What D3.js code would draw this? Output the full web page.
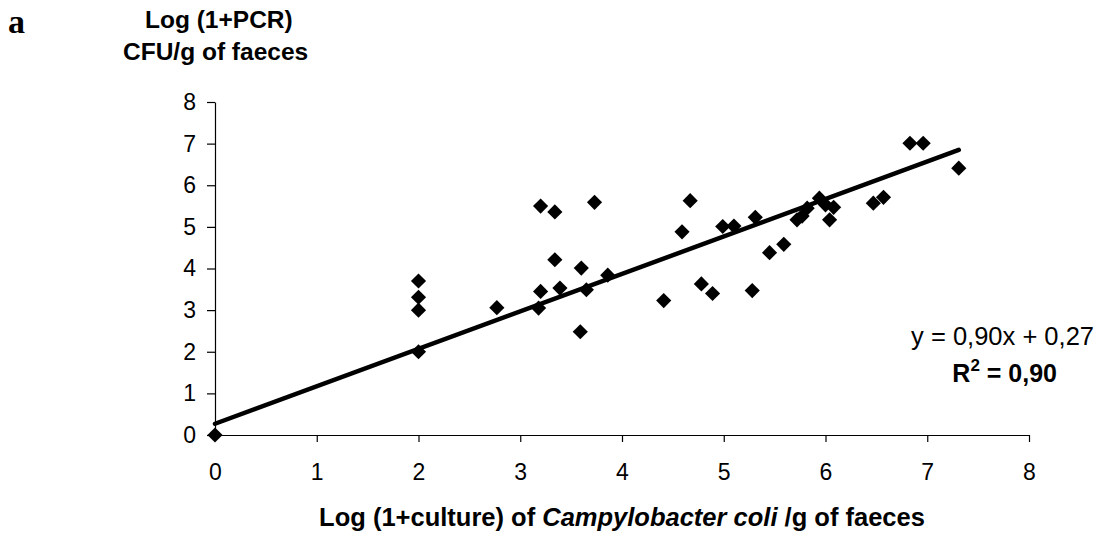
<!DOCTYPE html>
<html>
<head>
  <meta charset="utf-8">
  <title>PCR vs culture</title>
  <script src="https://d3js.org/d3.v7.min.js"></script>
  <style>
    body { margin: 0; background: #fff; }
    text { font-family: "Liberation Sans", Arial, sans-serif; fill: #000; }
  </style>
</head>
<body>
  <script>
    // data
    var cultureLog = [0, 2, 2, 2, 2, 2.77, 3.18, 3.20, 3.20, 3.34, 3.34, 3.39, 3.59, 3.60, 3.65, 3.73, 3.86,
                      4.41, 4.59, 4.67, 4.78, 4.89, 4.99, 5.10, 5.28, 5.31, 5.45, 5.59,
                      5.72, 5.77, 5.82, 5.94, 6.00, 6.04, 6.08, 6.47, 6.57, 6.83, 6.96, 7.31];
    var pcrLog     = [0, 2.0, 3.0, 3.31, 3.70, 3.06, 3.05, 3.45, 5.50, 5.36, 4.21, 3.53, 2.48, 4.01, 3.49, 5.59, 3.84,
                      3.23, 4.88, 5.63, 3.63, 3.40, 5.01, 5.02, 3.47, 5.23, 4.38, 4.58,
                      5.17, 5.26, 5.45, 5.69, 5.53, 5.17, 5.47, 5.57, 5.71, 7.01, 7.01, 6.41];
    var xTicks = [0, 1, 2, 3, 4, 5, 6, 7, 8];
    var yTicks = [0, 1, 2, 3, 4, 5, 6, 7, 8];
    var slope = 0.90, intercept = 0.27;
    var fitRange = [0, 7.31];

    var width = 1100, height = 537;
    var svg = d3.select("body").append("svg").attr("width", width).attr("height", height);

    var x = d3.scaleLinear().domain([0, 8]).range([215, 1029]);
    var y = d3.scaleLinear().domain([0, 8]).range([435, 102]);

    // axes
    svg.append("g")
      .attr("transform", "translate(0," + y(0) + ")")
      .call(d3.axisBottom(x).tickValues(xTicks).tickSize(7).tickSizeOuter(0).tickPadding(22))
      .call(g => g.selectAll("text").attr("font-size", 23).attr("font-family", "Liberation Sans"))
      .call(g => g.selectAll(".tick").filter(d => d === 0).select("line").remove());

    svg.append("g")
      .attr("transform", "translate(" + x(0) + ",0)")
      .call(d3.axisLeft(y).tickValues(yTicks).tickSize(8).tickSizeOuter(0).tickPadding(11))
      .call(g => g.selectAll("text").attr("font-size", 23).attr("font-family", "Liberation Sans"))
      .call(g => g.selectAll(".tick").filter(d => d === 0).select("line").attr("x2", -8));

    svg.selectAll(".domain, .tick line").attr("stroke", "#000").attr("stroke-width", 1.2);

    // trend line
    svg.append("line")
      .attr("x1", x(fitRange[0])).attr("y1", y(slope * fitRange[0] + intercept))
      .attr("x2", x(fitRange[1])).attr("y2", y(slope * fitRange[1] + intercept))
      .attr("stroke", "#000").attr("stroke-width", 4.5).attr("stroke-linecap", "round");

    // points
    var diamond = d3.symbol().type(d3.symbolSquare).size(115);
    svg.append("g")
      .selectAll("path")
      .data(d3.range(cultureLog.length))
      .enter()
      .append("path")
      .attr("d", diamond)
      .attr("transform", i => "translate(" + x(cultureLog[i]) + "," + y(pcrLog[i]) + ") rotate(45)")
      .attr("fill", "#000");

    // equation
    svg.append("text").attr("x", 1094).attr("y", 345).attr("text-anchor", "end")
      .attr("font-size", 25.5).text("y = 0,90x + 0,27");
    var r2 = svg.append("text").attr("x", 1057).attr("y", 382).attr("text-anchor", "end")
      .attr("font-size", 25).attr("font-weight", "bold");
    r2.append("tspan").text("R");
    r2.append("tspan").attr("dy", -11).attr("font-size", 17).text("2");
    r2.append("tspan").attr("dy", 11).text(" = 0,90");

    // axis titles
    var xt = svg.append("text").attr("x", 622).attr("y", 526).attr("text-anchor", "middle")
      .attr("font-size", 25.5).attr("font-weight", "bold");
    xt.append("tspan").text("Log (1+culture) of ");
    xt.append("tspan").attr("font-style", "italic").text("Campylobacter coli");
    xt.append("tspan").text(" /g of faeces");

    svg.append("text").attr("x", 145).attr("y", 28).attr("font-size", 24.5).attr("font-weight", "bold")
      .text("Log (1+PCR)");
    svg.append("text").attr("x", 123).attr("y", 60).attr("font-size", 24.5).attr("font-weight", "bold")
      .text("CFU/g of faeces");

    svg.append("text").attr("x", 8).attr("y", 33).attr("font-size", 34).attr("font-weight", "bold")
      .style("font-family", "Liberation Serif").text("a");
  </script>
</body>
</html>
